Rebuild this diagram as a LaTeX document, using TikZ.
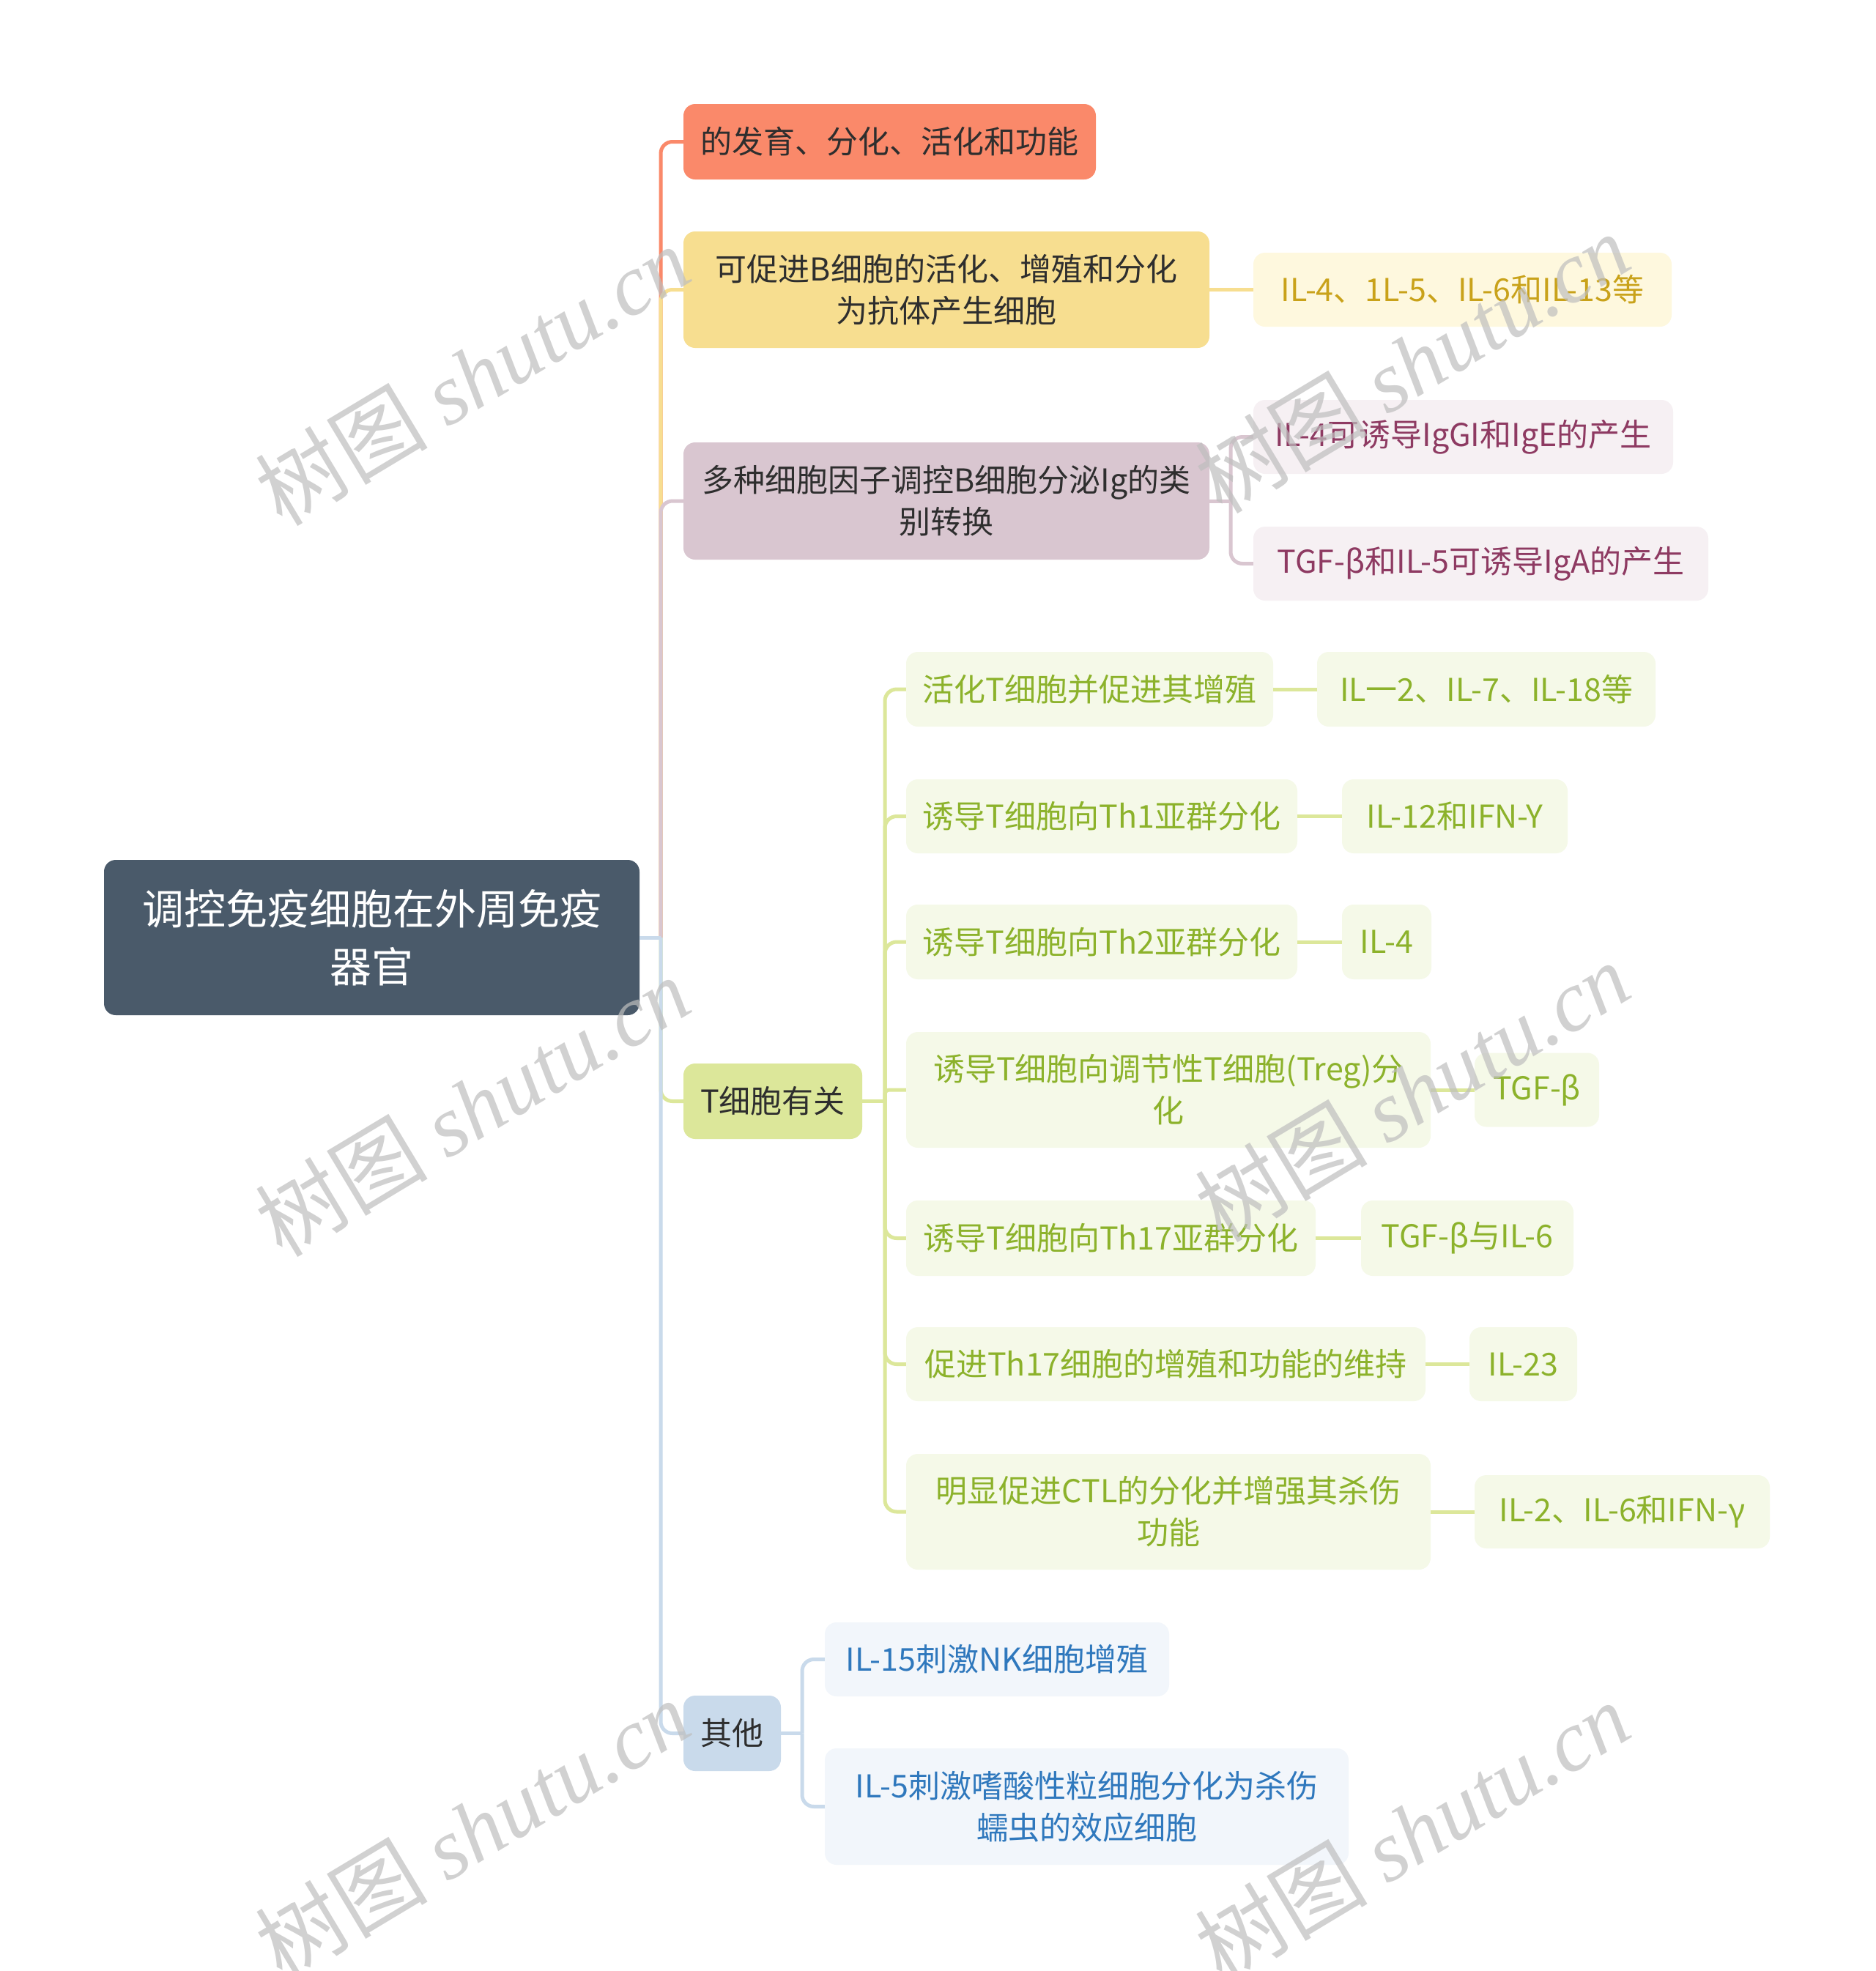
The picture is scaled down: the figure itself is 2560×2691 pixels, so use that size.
\documentclass[tikz,border=0pt]{standalone}
\usepackage{fontspec}
\setmainfont{Noto Sans CJK SC}
\newfontfamily\wmserif{Liberation Serif}
\newfontfamily\wmcjk{Noto Sans CJK SC}
\definecolor{rootc}{HTML}{4A5A6A}
\definecolor{salmon}{HTML}{FA896A}
\definecolor{yel}{HTML}{F7DE90}
\definecolor{yelL}{HTML}{FEF8DE}
\definecolor{yelT}{HTML}{C9A21A}
\definecolor{mau}{HTML}{D9C6D0}
\definecolor{mauL}{HTML}{F6F0F3}
\definecolor{mauT}{HTML}{8E3A62}
\definecolor{grn}{HTML}{DCE79A}
\definecolor{grnL}{HTML}{F5F9E8}
\definecolor{grnT}{HTML}{8CB22B}
\definecolor{blu}{HTML}{C9DAEB}
\definecolor{bluL}{HTML}{F2F6FB}
\definecolor{bluT}{HTML}{2F78BD}
\definecolor{txt}{HTML}{2E2E2E}
\definecolor{wmc}{HTML}{BEBEBE}
\newcommand\fsN{\fontsize{43}{57}\selectfont}
\newcommand\fsR{\fontsize{57}{79}\selectfont}
\tikzset{
  box/.style={rounded corners=16, inner sep=0, align=center, font=\fsN},
  conn/.style={line width=5},
  wm/.style={text=wmc, opacity=0.7, font=\fontsize{118}{118}\selectfont, rotate=31, inner sep=0}
}
\begin{document}
\begin{tikzpicture}[x=1pt,y=-1pt]
\useasboundingbox (0,0) rectangle (2560,2691);
\fill[white] (0,0) rectangle (2560,2691);

% root
\node[box, fill=rootc, text=white, font=\fsR, minimum width=731, minimum height=212] (root) at (507.5,1280) {调控免疫细胞在外周免疫\\器官};

% level 1
\node[box, fill=salmon, text=txt, minimum width=563, minimum height=103] (n1) at (1214.5,193.5) {的发育、分化、活化和功能};
\node[box, fill=yel, text=txt, minimum width=718, minimum height=159] (n2) at (1292,395.5) {可促进B细胞的活化、增殖和分化\\为抗体产生细胞};
\node[box, fill=mau, text=txt, minimum width=718, minimum height=160] (n3) at (1292,684) {多种细胞因子调控B细胞分泌Ig的类\\别转换};
\node[box, fill=grn, text=txt, minimum width=244, minimum height=103] (n4) at (1055,1503.5) {T细胞有关};
\node[box, fill=blu, text=txt, minimum width=133, minimum height=103] (n5) at (999.5,2366.5) {其他};

% B-cell children
\node[box, fill=yelL, text=yelT, minimum width=571, minimum height=101] (y1) at (1996.5,395.5) {IL-4、1L-5、IL-6和IL-13等};
\node[box, fill=mauL, text=mauT, minimum width=573, minimum height=101] (m1) at (1997.5,596.5) {IL-4可诱导IgGI和IgE的产生};
\node[box, fill=mauL, text=mauT, minimum width=621, minimum height=101] (m2) at (2021.5,769.5) {TGF-β和IL-5可诱导IgA的产生};

% T-cell children
\node[box, fill=grnL, text=grnT, minimum width=501, minimum height=102] (c1) at (1487.5,941) {活化T细胞并促进其增殖};
\node[box, fill=grnL, text=grnT, minimum width=462, minimum height=102] (d1) at (2029,941) {IL一2、IL-7、IL-18等};
\node[box, fill=grnL, text=grnT, minimum width=534, minimum height=101] (c2) at (1504,1114.5) {诱导T细胞向Th1亚群分化};
\node[box, fill=grnL, text=grnT, minimum width=308, minimum height=101] (d2) at (1986,1114.5) {IL-12和IFN-Y};
\node[box, fill=grnL, text=grnT, minimum width=534, minimum height=102] (c3) at (1504,1286) {诱导T细胞向Th2亚群分化};
\node[box, fill=grnL, text=grnT, minimum width=122, minimum height=102] (d3) at (1893,1286) {IL-4};
\node[box, fill=grnL, text=grnT, minimum width=716, minimum height=158] (c4) at (1595,1488) {诱导T细胞向调节性T细胞(Treg)分\\化};
\node[box, fill=grnL, text=grnT, minimum width=170, minimum height=101] (d4) at (2098,1488) {TGF-β};
\node[box, fill=grnL, text=grnT, minimum width=559, minimum height=103] (c5) at (1516.5,1690.5) {诱导T细胞向Th17亚群分化};
\node[box, fill=grnL, text=grnT, minimum width=290, minimum height=103] (d5) at (2003,1690.5) {TGF-β与IL-6};
\node[box, fill=grnL, text=grnT, minimum width=709, minimum height=101] (c6) at (1591.5,1862.5) {促进Th17细胞的增殖和功能的维持};
\node[box, fill=grnL, text=grnT, minimum width=147, minimum height=101] (d6) at (2079.5,1862.5) {IL-23};
\node[box, fill=grnL, text=grnT, minimum width=716, minimum height=158] (c7) at (1595,2064) {明显促进CTL的分化并增强其杀伤\\功能};
\node[box, fill=grnL, text=grnT, minimum width=403, minimum height=100] (d7) at (2214.5,2064) {IL-2、IL-6和IFN-γ};

% other children
\node[box, fill=bluL, text=bluT, minimum width=470, minimum height=101] (o1) at (1361,2265.5) {IL-15刺激NK细胞增殖};
\node[box, fill=bluL, text=bluT, minimum width=715, minimum height=159] (o2) at (1483.5,2466.5) {IL-5刺激嗜酸性粒细胞分化为杀伤\\蠕虫的效应细胞};

% junction coordinates
\coordinate (rj) at (902,1280);
\coordinate (bj) at (1680,684);
\coordinate (tj) at (1208,1503.5);
\coordinate (oj) at (1095,2366.5);

% root branches
\draw[conn, salmon, rounded corners=16] (rj) |- (n1.west);
\draw[conn, yel, rounded corners=16] (rj) |- (n2.west);
\draw[conn, mau, rounded corners=16] (rj) |- (n3.west);
\draw[conn, grn, rounded corners=16] (rj) |- (n4.west);
\draw[conn, blu, rounded corners=16] (rj) |- (n5.west);
\draw[conn, blu] (root.east) -- (rj);

% B branches
\draw[conn, yel] (n2.east) -- (y1.west);
\draw[conn, mau] (n3.east) -- (bj);
\draw[conn, mau, rounded corners=16] (bj) |- (m1.west);
\draw[conn, mau, rounded corners=16] (bj) |- (m2.west);

% T branches
\draw[conn, grn] (n4.east) -- (tj);
\draw[conn, grn, rounded corners=16] (tj) |- (c1.west);
\draw[conn, grn, rounded corners=16] (tj) |- (c2.west);
\draw[conn, grn, rounded corners=16] (tj) |- (c3.west);
\draw[conn, grn, rounded corners=6] (tj) |- (c4.west);
\draw[conn, grn, rounded corners=16] (tj) |- (c5.west);
\draw[conn, grn, rounded corners=16] (tj) |- (c6.west);
\draw[conn, grn, rounded corners=16] (tj) |- (c7.west);
\draw[conn, grn] (c1.east) -- (d1.west);
\draw[conn, grn] (c2.east) -- (d2.west);
\draw[conn, grn] (c3.east) -- (d3.west);
\draw[conn, grn] (c4.east) -- (d4.west);
\draw[conn, grn] (c5.east) -- (d5.west);
\draw[conn, grn] (c6.east) -- (d6.west);
\draw[conn, grn] (c7.east) -- (d7.west);

% other branches
\draw[conn, blu] (n5.east) -- (oj);
\draw[conn, blu, rounded corners=16] (oj) |- (o1.west);
\draw[conn, blu, rounded corners=16] (oj) |- (o2.west);

% watermarks
\node[wm] (w1) at (645,512) {{\wmcjk 树图} {\wmserif\itshape shutu.cn}};
\node[wm] (w2) at (1928,495) {{\wmcjk 树图} {\wmserif\itshape shutu.cn}};
\node[wm] (w3) at (645,1510) {{\wmcjk 树图} {\wmserif\itshape shutu.cn}};
\node[wm] (w4) at (1928,1490) {{\wmcjk 树图} {\wmserif\itshape shutu.cn}};
\node[wm] (w5) at (645,2497) {{\wmcjk 树图} {\wmserif\itshape shutu.cn}};
\node[wm] (w6) at (1928,2500) {{\wmcjk 树图} {\wmserif\itshape shutu.cn}};
\end{tikzpicture}
\end{document}
